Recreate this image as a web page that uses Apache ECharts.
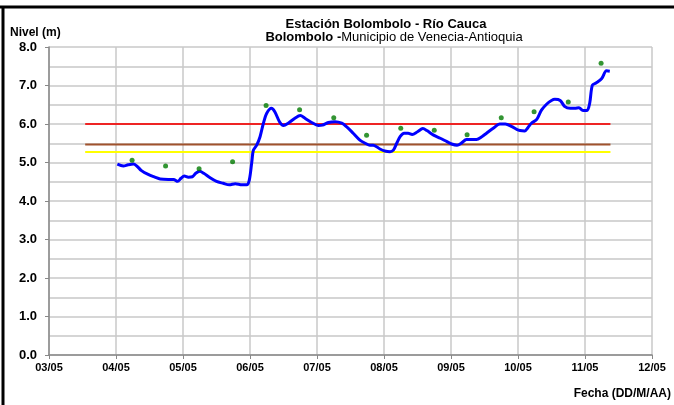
<!DOCTYPE html>
<html>
<head>
<meta charset="utf-8">
<script src="https://cdn.jsdelivr.net/npm/echarts@6/dist/echarts.min.js"></script>
<style>
  html, body { margin: 0; padding: 0; background: #fff; }
  #chart { width: 674px; height: 405px; }
</style>
</head>
<body>
<div id="chart"></div>
<script>
// x en meses (03/05 ... 12/05), y en metros
var xTicks = [3, 4, 5, 6, 7, 8, 9, 10, 11, 12];

// nivel continuo (linea azul)
var levelDates = [4.02, 4.11, 4.18, 4.26, 4.31, 4.38, 4.48, 4.58, 4.66, 4.78, 4.86, 4.92, 4.97, 5.02, 5.08, 5.14,
  5.19, 5.25, 5.31, 5.40, 5.50, 5.60, 5.69, 5.78, 5.88, 5.95, 5.99, 6.03, 6.05, 6.10, 6.15, 6.20, 6.25, 6.32,
  6.37, 6.44, 6.50, 6.57, 6.67, 6.75, 6.82, 6.92, 7.02, 7.08, 7.17, 7.27, 7.37, 7.44, 7.54, 7.64, 7.72, 7.79,
  7.84, 7.94, 8.01, 8.09, 8.14, 8.19, 8.24, 8.30, 8.36, 8.42, 8.50, 8.58, 8.64, 8.74, 8.84, 8.94, 9.01, 9.09,
  9.16, 9.23, 9.31, 9.38, 9.46, 9.53, 9.63, 9.73, 9.81, 9.91, 9.98, 10.03, 10.10, 10.15, 10.20, 10.28, 10.35,
  10.43, 10.50, 10.55, 10.63, 10.70, 10.78, 10.85, 10.91, 10.97, 11.03, 11.07, 11.11, 11.17, 11.25, 11.32, 11.37];
var levelValues = [4.96, 4.91, 4.94, 4.96, 4.91, 4.79, 4.69, 4.62, 4.57, 4.56, 4.56, 4.51, 4.59, 4.65, 4.62, 4.63,
  4.72, 4.77, 4.72, 4.61, 4.51, 4.46, 4.42, 4.45, 4.42, 4.42, 4.55, 5.06, 5.32, 5.45, 5.67, 6.02, 6.28, 6.41,
  6.32, 6.06, 5.96, 6.02, 6.15, 6.22, 6.15, 6.04, 5.96, 5.97, 6.04, 6.06, 6.02, 5.93, 5.76, 5.58, 5.50, 5.45,
  5.45, 5.35, 5.30, 5.28, 5.32, 5.50, 5.67, 5.76, 5.76, 5.73, 5.80, 5.88, 5.83, 5.71, 5.63, 5.54, 5.48, 5.45,
  5.51, 5.60, 5.60, 5.60, 5.67, 5.76, 5.89, 6.00, 6.00, 5.93, 5.86, 5.83, 5.82, 5.91, 6.02, 6.12, 6.36,
  6.52, 6.61, 6.64, 6.61, 6.45, 6.41, 6.41, 6.42, 6.35, 6.35, 6.54, 7.01, 7.07, 7.18, 7.38, 7.37];

// lecturas (puntos verdes)
var obsDates = [4.24, 4.74, 5.24, 5.74, 6.24, 6.74, 7.25, 7.74, 8.25, 8.75, 9.24, 9.75, 10.24, 10.75, 11.24];
var obsValues = [5.06, 4.91, 4.84, 5.02, 6.48, 6.37, 6.16, 5.71, 5.89, 5.84, 5.72, 6.16, 6.32, 6.57, 7.58];

// niveles de referencia
var refStart = 3.54, refEnd = 11.38;
var refLevels = [6.0, 5.47, 5.27];
var refColors = ['#ee2424', '#a0522d', '#ffff00'];

function pairs(xs, ys) {
  return xs.map(function (x, i) { return [x, ys[i]]; });
}

var font = "'Liberation Sans', Arial, sans-serif";

var refSeries = refLevels.map(function (v, i) {
  return {
    type: 'line',
    data: [[refStart, v], [refEnd, v]],
    symbol: 'none',
    lineStyle: { color: refColors[i], width: 2 },
    silent: true,
    z: 2
  };
});

var chart = echarts.init(document.getElementById('chart'));
chart.setOption({
  animation: false,
  backgroundColor: '#fff',
  textStyle: { fontFamily: font },
  grid: { left: 49, right: 22, top: 47, bottom: 50 },
  xAxis: {
    type: 'value',
    min: xTicks[0],
    max: xTicks[xTicks.length - 1],
    interval: 1,
    axisLine: { lineStyle: { color: '#888', width: 1.5 } },
    axisTick: { lineStyle: { color: '#888' }, length: 4 },
    axisLabel: {
      margin: 7,
      color: '#000',
      fontWeight: 'bold',
      fontSize: 11,
      fontFamily: font,
      formatter: function (v) { return (v < 10 ? '0' : '') + v + '/05'; }
    },
    splitLine: { show: true, lineStyle: { color: '#c8c8c8', width: 1.5 } }
  },
  yAxis: {
    type: 'value',
    min: 0,
    max: 8,
    interval: 1,
    axisLine: { show: true, lineStyle: { color: '#888', width: 1.5 } },
    axisTick: { show: true, lineStyle: { color: '#888' }, length: 4 },
    minorTick: { show: false, splitNumber: 2 },
    axisLabel: {
      margin: 12,
      color: '#000',
      fontWeight: 'bold',
      fontSize: 13,
      fontFamily: font,
      formatter: function (v) { return v.toFixed(1); }
    },
    splitLine: { show: true, lineStyle: { color: '#c8c8c8', width: 1.5 } },
    minorSplitLine: { show: true, lineStyle: { color: '#c8c8c8', width: 1.5 } }
  },
  series: refSeries.concat([
    {
      type: 'line',
      data: pairs(levelDates, levelValues),
      symbol: 'none',
      smooth: 0.3,
      lineStyle: { color: '#0000ff', width: 3 },
      z: 3
    },
    {
      type: 'scatter',
      data: pairs(obsDates, obsValues),
      symbolSize: 5,
      itemStyle: { color: '#007a00' },
      z: 4
    }
  ]),
  graphic: [
    { type: 'line', shape: { x1: 0, y1: 7, x2: 674, y2: 7 }, style: { stroke: '#000', lineWidth: 3 } },
    { type: 'line', shape: { x1: 3, y1: 7, x2: 3, y2: 405 }, style: { stroke: '#000', lineWidth: 3 } },
    {
      type: 'text', left: 10, top: 27,
      style: { text: 'Nivel (m)', font: 'bold 12px ' + font, fill: '#000' }
    },
    {
      type: 'text', x: 386, y: 18,
      style: { text: 'Estación Bolombolo - Río Cauca', font: 'bold 13px ' + font, fill: '#000', align: 'center' }
    },
    {
      type: 'text', x: 394, y: 31,
      style: {
        text: '{b|Bolombolo -}{n|Municipio de Venecia-Antioquia}',
        align: 'center',
        rich: {
          b: { font: 'bold 13px ' + font, fill: '#000' },
          n: { font: '13px ' + font, fill: '#000' }
        }
      }
    },
    {
      type: 'text', right: 3, top: 388,
      style: { text: 'Fecha (DD/M/AA)', font: 'bold 12px ' + font, fill: '#000' }
    }
  ]
});
</script>
</body>
</html>
